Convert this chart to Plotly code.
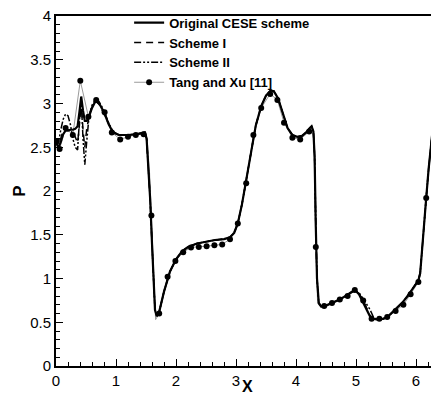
import plotly.graph_objects as go

# Common x grid for the CESE schemes
X = [0, 0.04, 0.08, 0.12, 0.16, 0.2, 0.24, 0.28, 0.32, 0.36,
     0.39, 0.42, 0.45, 0.48, 0.51, 0.55, 0.6, 0.66, 0.72, 0.8,
     0.88, 0.95, 1.05, 1.2, 1.35, 1.48, 1.51, 1.54, 1.57, 1.6,
     1.63, 1.65, 1.68, 1.72, 1.8, 1.9, 2.0, 2.1, 2.2, 2.35,
     2.5, 2.65, 2.8, 2.9, 2.97, 3.03, 3.1, 3.17, 3.25, 3.33,
     3.42, 3.5, 3.58, 3.63, 3.7, 3.78, 3.86, 3.94, 4.02, 4.1,
     4.17, 4.23, 4.26, 4.29, 4.31, 4.33, 4.35, 4.38, 4.42, 4.5,
     4.6, 4.7, 4.8, 4.9, 4.98, 5.05, 5.12, 5.18, 5.23, 5.29,
     5.36, 5.46, 5.54, 5.62, 5.7, 5.78, 5.86, 5.94, 6.0, 6.04,
     6.07, 6.1, 6.13, 6.17, 6.21, 6.25, 6.3]

P_ORIGINAL = [2.57, 2.49, 2.56, 2.65, 2.69, 2.69, 2.7, 2.7, 2.71, 2.74,
              2.9, 3.08, 2.92, 2.8, 2.8, 2.85, 2.95, 3.03, 3.0, 2.9,
              2.76, 2.67, 2.64, 2.64, 2.65, 2.67, 2.6, 2.3, 1.9, 1.4,
              0.9, 0.64, 0.57, 0.62, 0.85, 1.08, 1.22, 1.31, 1.36, 1.4,
              1.42, 1.44, 1.45, 1.47, 1.52, 1.63, 1.85, 2.12, 2.45, 2.75,
              2.97, 3.09, 3.15, 3.14, 3.06, 2.88, 2.72, 2.64, 2.62, 2.63,
              2.67, 2.72, 2.74, 2.68, 2.4, 1.6, 1.0, 0.72, 0.68, 0.69,
              0.72, 0.75, 0.79, 0.83, 0.87, 0.82, 0.73, 0.64, 0.57, 0.54,
              0.53, 0.54, 0.57, 0.62, 0.67, 0.73, 0.8, 0.88, 0.94, 0.98,
              1.06, 1.35, 1.65, 1.92, 2.25, 2.55, 2.85]

P_SCHEME1 = [2.55, 2.5, 2.6, 2.7, 2.72, 2.7, 2.68, 2.66, 2.62, 2.55,
             2.75, 3.02, 2.7, 2.5, 2.7, 2.85, 2.96, 3.03, 2.99, 2.88,
             2.76, 2.67, 2.64, 2.64, 2.65, 2.67, 2.6, 2.3, 1.9, 1.4,
             0.9, 0.64, 0.57, 0.62, 0.85, 1.08, 1.22, 1.31, 1.36, 1.4,
             1.42, 1.44, 1.45, 1.47, 1.52, 1.63, 1.85, 2.12, 2.45, 2.75,
             2.97, 3.09, 3.15, 3.14, 3.06, 2.88, 2.72, 2.64, 2.62, 2.63,
             2.67, 2.72, 2.74, 2.68, 2.4, 1.6, 1.0, 0.72, 0.68, 0.69,
             0.72, 0.75, 0.79, 0.83, 0.87, 0.83, 0.75, 0.66, 0.58, 0.54,
             0.53, 0.54, 0.57, 0.62, 0.67, 0.73, 0.8, 0.88, 0.94, 0.98,
             1.06, 1.35, 1.65, 1.92, 2.25, 2.55, 2.85]

P_SCHEME2 = [2.55, 2.55, 2.7, 2.82, 2.88, 2.86, 2.76, 2.6, 2.5, 2.47,
             2.8, 3.05, 2.6, 2.3, 2.55, 2.85, 2.98, 3.05, 3.02, 2.92,
             2.77, 2.68, 2.64, 2.64, 2.65, 2.67, 2.6, 2.3, 1.9, 1.4,
             0.9, 0.64, 0.57, 0.62, 0.85, 1.08, 1.22, 1.31, 1.36, 1.4,
             1.42, 1.44, 1.45, 1.47, 1.52, 1.63, 1.85, 2.12, 2.45, 2.75,
             2.97, 3.09, 3.15, 3.14, 3.06, 2.88, 2.72, 2.64, 2.62, 2.63,
             2.67, 2.72, 2.74, 2.68, 2.4, 1.6, 1.0, 0.72, 0.68, 0.69,
             0.72, 0.75, 0.79, 0.83, 0.86, 0.84, 0.77, 0.71, 0.65, 0.56,
             0.53, 0.54, 0.57, 0.62, 0.67, 0.73, 0.8, 0.88, 0.94, 0.98,
             1.06, 1.35, 1.65, 1.92, 2.25, 2.55, 2.85]

# Tang and Xu [11]: marked points
TX = [0.01, 0.06, 0.16, 0.28, 0.405, 0.54, 0.67, 0.81, 0.93, 1.07,
      1.2, 1.33, 1.46, 1.59, 1.72, 1.86, 1.99, 2.12, 2.25, 2.38,
      2.51, 2.64, 2.77, 2.9, 3.03, 3.17, 3.29, 3.42, 3.57, 3.69,
      3.8, 3.94, 4.07, 4.22, 4.33, 4.47, 4.6, 4.73, 4.86, 4.98,
      5.12, 5.26, 5.39, 5.52, 5.66, 5.79, 5.91, 6.04, 6.17]
TP = [2.57, 2.48, 2.72, 2.64, 3.26, 2.85, 3.04, 2.9, 2.67, 2.59,
      2.62, 2.64, 2.65, 1.72, 0.6, 1.02, 1.2, 1.3, 1.355, 1.36,
      1.37, 1.38, 1.39, 1.45, 1.63, 2.09, 2.64, 2.95, 3.11, 3.04,
      2.78, 2.61, 2.59, 2.68, 1.36, 0.685, 0.72, 0.76, 0.8, 0.87,
      0.75, 0.54, 0.54, 0.56, 0.63, 0.7, 0.82, 0.96, 1.92]

# Tang and Xu [11]: thin grey curve
TL_X = [0.01, 0.06, 0.16, 0.28, 0.405, 0.54, 0.67, 0.81, 0.93, 1.07,
        1.2, 1.33, 1.46, 1.52, 1.56, 1.59, 1.62, 1.66, 1.72, 1.86,
        1.99, 2.12, 2.25, 2.38, 2.51, 2.64, 2.77, 2.9, 3.03, 3.17,
        3.29, 3.42, 3.57, 3.69, 3.8, 3.94, 4.07, 4.22, 4.27, 4.3,
        4.33, 4.36, 4.4, 4.47, 4.6, 4.73, 4.86, 4.98, 5.12, 5.26,
        5.39, 5.52, 5.66, 5.79, 5.91, 6.04, 6.1, 6.17, 6.23, 6.3]
TL_P = [2.57, 2.48, 2.72, 2.64, 3.26, 2.85, 3.04, 2.9, 2.67, 2.59,
        2.62, 2.64, 2.65, 2.58, 2.2, 1.72, 1.1, 0.53, 0.6, 1.02,
        1.2, 1.3, 1.355, 1.36, 1.37, 1.38, 1.39, 1.45, 1.63, 2.09,
        2.64, 2.95, 3.11, 3.04, 2.78, 2.61, 2.59, 2.68, 2.72, 2.6,
        1.36, 0.72, 0.68, 0.685, 0.72, 0.76, 0.8, 0.87, 0.75, 0.54,
        0.54, 0.56, 0.63, 0.7, 0.82, 0.96, 1.3, 1.92, 2.4, 2.95]

X_TICKS = [0, 1, 2, 3, 4, 5, 6]
Y_TICKS = [0, 0.5, 1, 1.5, 2, 2.5, 3, 3.5, 4]
Y_TICK_LABELS = ["0", "0.5", "1", "1.5", "2", "2.5", "3", "3.5", "4"]

FONT = "Liberation Sans, Arial, sans-serif"
GREY = "#9a9a9a"

fig = go.Figure()
fig.add_trace(go.Scatter(x=TL_X, y=TL_P, mode="lines", showlegend=False,
                         legendgroup="tang", line=dict(color=GREY, width=1),
                         hoverinfo="skip"))
fig.add_trace(go.Scatter(x=TX, y=TP, mode="markers", showlegend=False,
                         legendgroup="tang",
                         marker=dict(color="black", size=6, symbol="circle")))
# legend entry for Tang and Xu (grey line with black marker)
fig.add_trace(go.Scatter(x=[None], y=[None], mode="lines+markers", name="Tang and Xu [11]",
                         legendgroup="tang",
                         line=dict(color=GREY, width=1),
                         marker=dict(color="black", size=6, symbol="circle"),
                         legendrank=4))
fig.add_trace(go.Scatter(x=X, y=P_SCHEME2, mode="lines", name="Scheme II",
                         line=dict(color="black", width=1.5, dash="7px,2px,2px,2px,2px,2px"),
                         legendrank=3))
fig.add_trace(go.Scatter(x=X, y=P_SCHEME1, mode="lines", name="Scheme I",
                         line=dict(color="black", width=1.5, dash="7px,5px"),
                         legendrank=2))
fig.add_trace(go.Scatter(x=X, y=P_ORIGINAL, mode="lines", name="Original CESE scheme",
                         line=dict(color="black", width=2.2),
                         legendrank=1))

fig.update_layout(
    width=431, height=396,
    margin=dict(l=56, r=0, t=16, b=30, autoexpand=False),
    paper_bgcolor="white", plot_bgcolor="white",
    font=dict(family=FONT, color="black", size=15),
    showlegend=True,
    legend=dict(x=0.195, y=1.024, xanchor="left", yanchor="top",
                bgcolor="rgba(0,0,0,0)", borderwidth=0,
                font=dict(family=FONT, size=13, color="black", weight="bold"),
                tracegroupgap=0, itemwidth=30, groupclick="toggleitem"),
    annotations=[dict(text="X", xref="paper", yref="paper", x=0.511, y=-0.0845,
                      xanchor="center", yanchor="bottom", showarrow=False,
                      borderpad=0,
                      font=dict(family=FONT, size=16, color="black", weight="bold"))],
)
fig.update_xaxes(range=[0, 6.25], tickmode="array", tickvals=X_TICKS,
                 ticks="inside", ticklen=7, tickwidth=1.2, tickcolor="black",
                 minor=dict(dtick=0.2, ticks="inside", ticklen=4, tickwidth=1, tickcolor="black"),
                 showline=True, linecolor="black", linewidth=2, mirror=True,
                 showgrid=False, zeroline=False, automargin=False,
                 tickfont=dict(size=15))
fig.update_yaxes(range=[0, 4], tickmode="array", tickvals=Y_TICKS, ticktext=Y_TICK_LABELS,
                 ticks="inside", ticklen=7, tickwidth=1.2, tickcolor="black",
                 minor=dict(dtick=0.1, ticks="inside", ticklen=4, tickwidth=1, tickcolor="black"),
                 showline=True, linecolor="black", linewidth=2, mirror=False,
                 showgrid=False, zeroline=False, automargin=False,
                 tickfont=dict(size=15),
                 title=dict(text="P", font=dict(size=17, weight="bold"), standoff=0))

fig.write_html("out.html")
